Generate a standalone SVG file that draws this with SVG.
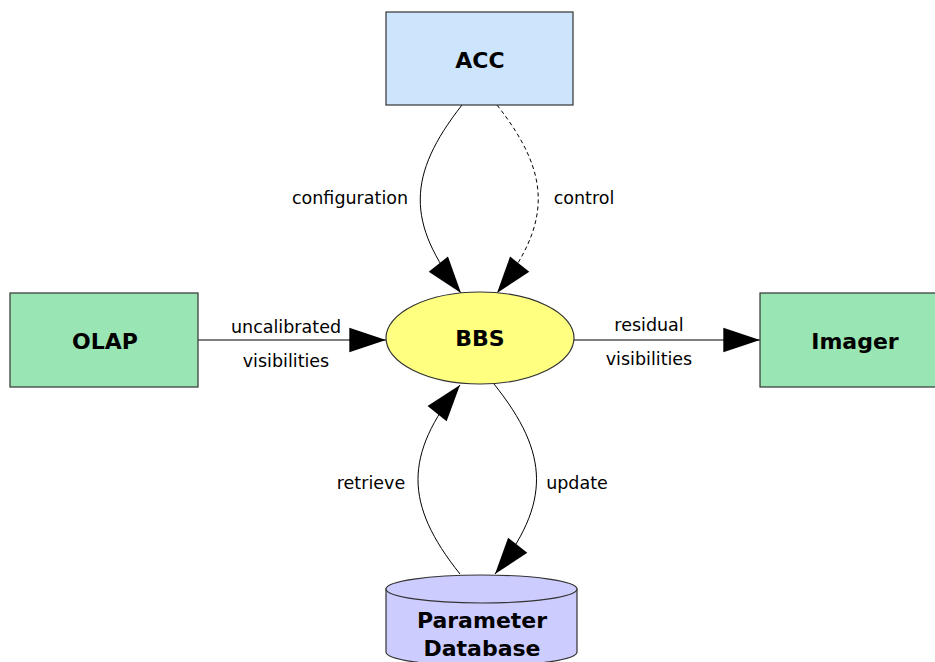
<svg xmlns="http://www.w3.org/2000/svg" width="935" height="662" viewBox="0 0 935 662">
<style>
.node{stroke:#333;stroke-width:1.2}
.t{font-family:"DejaVu Sans",Verdana,sans-serif;font-weight:bold;font-size:22px;fill:#000;text-anchor:middle}
.l{font-family:"DejaVu Sans",Verdana,sans-serif;font-size:17.5px;fill:#000;text-anchor:middle}
.c{fill:none;stroke:#000;stroke-width:1}
.d{stroke-dasharray:4,3}
</style>
<defs>
<marker id="ah" markerUnits="userSpaceOnUse" markerWidth="40" markerHeight="30" viewBox="-34 -12 36 24" refX="0" refY="0" orient="auto">
<path d="M0,0 L-33,-11 L-33,11 Z" fill="#000"/>
</marker>
</defs>
<rect width="935" height="662" fill="#fff"/>
<g id="connectors">
<path class="c" d="M462,105 C407,175 406,223 461,293" marker-end="url(#ah)"/>
<path class="c d" d="M497,105 C552,175 552,223 497,293" marker-end="url(#ah)"/>
<path class="c" d="M198,340 L386,340" marker-end="url(#ah)"/>
<path class="c" d="M574,340 L760,340" marker-end="url(#ah)"/>
<path class="c" d="M460,574 C404,504 404,455 460,385" marker-end="url(#ah)"/>
<path class="c" d="M494,384 C550,454 551,503 495,574" marker-end="url(#ah)"/>
<text class="l" x="350" y="204">configuration</text>
<text class="l" x="584" y="204">control</text>
<text class="l" x="286" y="333">uncalibrated</text>
<text class="l" x="286" y="367">visibilities</text>
<text class="l" x="649" y="331">residual</text>
<text class="l" x="649" y="365">visibilities</text>
<text class="l" x="371" y="489">retrieve</text>
<text class="l" x="577" y="489">update</text>
</g>
<g id="acc">
<rect class="node" x="386" y="12" width="187" height="93" fill="#cce5fc"/>
<text class="t" x="480" y="68">ACC</text>
</g>
<g id="bbs">
<ellipse class="node" cx="480" cy="338" rx="94" ry="46" fill="#ffff80"/>
<text class="t" x="480" y="346">BBS</text>
</g>
<g id="olap">
<rect class="node" x="10" y="293" width="188" height="94" fill="#99e5b3"/>
<text class="t" x="105" y="349">OLAP</text>
</g>
<g id="imager">
<rect class="node" x="760" y="293" width="190" height="94" fill="#99e5b3"/>
<text class="t" x="855" y="349">Imager</text>
</g>
<g id="paramdb">
<path class="node" d="M386,589 L386,652 A95.5,14 0 0 0 577,652 L577,589 Z" fill="#ccccff"/>
<ellipse class="node" cx="481.5" cy="589" rx="95.5" ry="14" fill="#ccccff"/>
<text class="t" x="482" y="628">Parameter</text>
<text class="t" x="482" y="656">Database</text>
</g>
</svg>
